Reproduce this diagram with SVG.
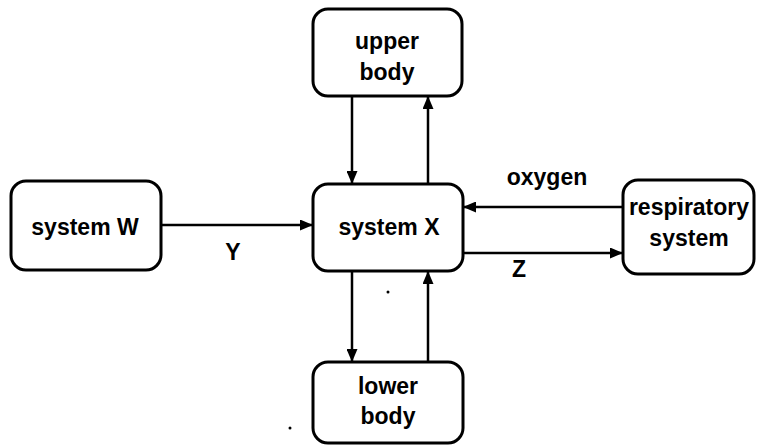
<svg xmlns="http://www.w3.org/2000/svg" width="761" height="448" viewBox="0 0 761 448">
<style>
.box{fill:#fff;stroke:#000;stroke-width:3}
.lbl{font-family:"Liberation Sans",Arial,sans-serif;font-weight:bold;font-size:23px;fill:#000;text-anchor:middle}
.con{stroke:#000;stroke-width:2.5;fill:none;marker-end:url(#ah)}
</style>
<defs>
<marker id="ah" viewBox="0 0 13 11" refX="13" refY="5.5" markerWidth="13" markerHeight="11" markerUnits="userSpaceOnUse" orient="auto">
<path d="M0,0 L13,5.5 L0,11 Z" fill="#000"/>
</marker>
</defs>
<rect width="761" height="448" fill="#fff"/>
<g id="upper-body">
<rect class="box" x="313" y="9" width="149" height="87" rx="15"/>
<text class="lbl" x="387" y="49">upper</text>
<text class="lbl" x="387" y="80">body</text>
</g>
<g id="system-w">
<rect class="box" x="11" y="181" width="150" height="89" rx="15"/>
<text class="lbl" x="85" y="235">system W</text>
</g>
<g id="system-x">
<rect class="box" x="313" y="184" width="150" height="87" rx="15"/>
<text class="lbl" x="389" y="235">system X</text>
</g>
<g id="respiratory-system">
<rect class="box" x="623" y="180" width="131" height="94" rx="15"/>
<text class="lbl" x="689" y="215">respiratory</text>
<text class="lbl" x="689" y="246">system</text>
</g>
<g id="lower-body">
<rect class="box" x="313" y="362" width="150" height="81" rx="15"/>
<text class="lbl" x="388" y="394">lower</text>
<text class="lbl" x="388" y="424">body</text>
</g>
<g id="connectors">
<line class="con" x1="352" y1="96" x2="352" y2="184"/>
<line class="con" x1="428" y1="184" x2="428" y2="96"/>
<line class="con" x1="161" y1="225" x2="313" y2="225"/>
<line class="con" x1="623" y1="207" x2="463" y2="207"/>
<line class="con" x1="463" y1="253" x2="623" y2="253"/>
<line class="con" x1="352" y1="271" x2="352" y2="362"/>
<line class="con" x1="428" y1="362" x2="428" y2="271"/>
<text class="lbl" x="233" y="260">Y</text>
<text class="lbl" x="547" y="185">oxygen</text>
<text class="lbl" x="519" y="277">Z</text>
</g>
<circle cx="388" cy="292" r="1.5" fill="#000"/>
<circle cx="290" cy="428" r="1.5" fill="#000"/>
</svg>
